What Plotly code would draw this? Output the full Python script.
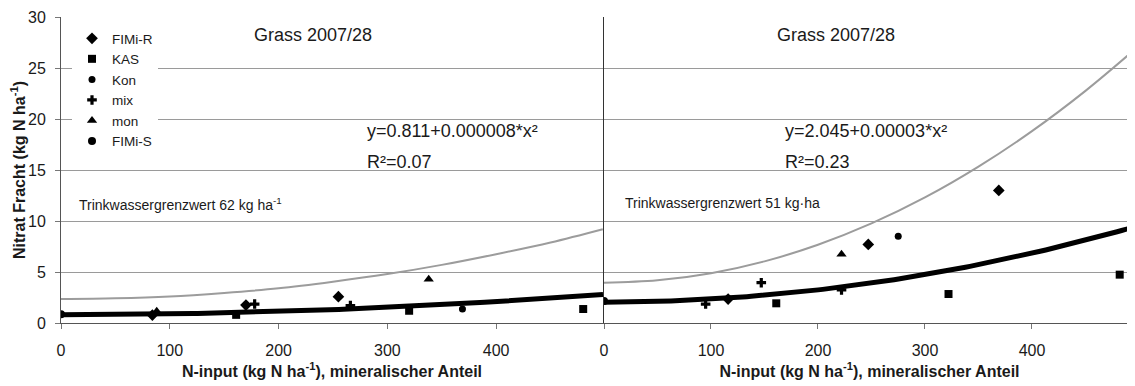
import numpy as np
import plotly.graph_objects as go

# ---------------- data ----------------
series_names = ["FIMi-R", "KAS", "Kon", "mix", "mon", "FIMi-S"]
series_symbols = ["diamond", "square", "circle", "cross", "triangle-up", "circle"]
series_sizes = [9, 8, 7, 8, 9, 8]

# left panel (Grass 2007/28, equation y=0.811+0.000008*x²)
left_x = {
    "FIMi-R": [84, 170, 255],
    "KAS": [161, 320, 480],
    "Kon": [369],
    "mix": [178, 266],
    "mon": [88, 338],
    "FIMi-S": [0],
}
left_y = {
    "FIMi-R": [0.78, 1.76, 2.58],
    "KAS": [0.8, 1.2, 1.37],
    "Kon": [1.37],
    "mix": [1.86, 1.7],
    "mon": [1.15, 4.3],
    "FIMi-S": [0.85],
}
# right panel (Grass 2007/28, equation y=2.045+0.00003*x²)
right_x = {
    "FIMi-R": [116, 247, 369],
    "KAS": [161, 322, 482],
    "Kon": [275],
    "mix": [95, 147, 222],
    "mon": [222],
    "FIMi-S": [0],
}
right_y = {
    "FIMi-R": [2.35, 7.7, 13.0],
    "KAS": [1.93, 2.84, 4.74],
    "Kon": [8.5],
    "mix": [1.86, 3.95, 3.24],
    "mon": [6.73],
    "FIMi-S": [2.16],
}

# trend equations shown on the chart
left_a, left_b = 0.811, 0.000008
right_a, right_b = 2.045, 0.00003
left_eq = "y=0.811+0.000008*x²"
left_r2 = "R²=0.07"
right_eq = "y=2.045+0.00003*x²"
right_r2 = "R²=0.23"

# grey upper curves
left_grey_x = [0, 50, 100, 150, 200, 250, 300, 350, 400, 450, 498]
left_grey_y = [2.35, 2.42, 2.6, 2.95, 3.4, 4.05, 4.8, 5.7, 6.75, 7.9, 9.2]
right_grey_x = [0, 50, 100, 150, 200, 250, 300, 350, 400, 450, 497]
right_grey_y = [3.95, 4.18, 4.88, 6.04, 7.67, 9.76, 12.31, 15.33, 18.81, 22.76, 26.9]

x_ticks = [0, 100, 200, 300, 400]
y_ticks = [0, 5, 10, 15, 20, 25, 30]
panel_title = "Grass 2007/28"
left_limit = "Trinkwassergrenzwert 62 kg ha<sup>-1</sup>"
right_limit = "Trinkwassergrenzwert 51 kg·ha"
x_title = "N-input (kg N ha<sup>-1</sup>), mineralischer Anteil"
y_title = "Nitrat Fracht (kg N ha<sup>-1</sup>)"

LEFT_MAX = 498.2
RIGHT_MAX = 496.3

FONT = "Arial, Liberation Sans, sans-serif"
TXT = "#1a1a1a"
GRID = "#9a9a9a"

fig = go.Figure()

# grey curves
fig.add_trace(go.Scatter(x=left_grey_x, y=left_grey_y, mode="lines", line=dict(color="#9c9c9c", width=2, shape="spline"),
                         xaxis="x", yaxis="y", showlegend=False, hoverinfo="skip"))
fig.add_trace(go.Scatter(x=right_grey_x, y=right_grey_y, mode="lines", line=dict(color="#9c9c9c", width=2, shape="spline"),
                         xaxis="x2", yaxis="y2", showlegend=False, hoverinfo="skip"))

# trend lines from the displayed equations
xl = np.linspace(0, LEFT_MAX, 120)
xr = np.linspace(0, RIGHT_MAX, 120)
fig.add_trace(go.Scatter(x=xl, y=left_a + left_b * xl ** 2, mode="lines", line=dict(color="black", width=5),
                         xaxis="x", yaxis="y", showlegend=False, hoverinfo="skip"))
fig.add_trace(go.Scatter(x=xr, y=right_a + right_b * xr ** 2, mode="lines", line=dict(color="black", width=5),
                         xaxis="x2", yaxis="y2", showlegend=False, hoverinfo="skip"))

# points
for name, sym, sz in zip(series_names, series_symbols, series_sizes):
    mk = dict(symbol=sym, size=sz, color="black", line=dict(width=0))
    fig.add_trace(go.Scatter(x=left_x[name], y=left_y[name], mode="markers", marker=mk, name=name,
                             legendgroup=name, xaxis="x", yaxis="y", showlegend=True))
    fig.add_trace(go.Scatter(x=right_x[name], y=right_y[name], mode="markers", marker=mk, name=name,
                             legendgroup=name, xaxis="x2", yaxis="y2", showlegend=False))

split_l = (603 - 61) / 1074
split_r = (604 - 61) / 1074

axis_common = dict(
    showgrid=False, zeroline=False, showline=True, linecolor="#555", linewidth=1,
    ticks="outside", ticklen=5, tickcolor="#777",
    tickfont=dict(family=FONT, size=16, color=TXT),
    tickvals=x_ticks, ticklabelstandoff=8,
    title=dict(text=x_title, font=dict(family=FONT, size=16, color=TXT, weight="bold"), standoff=7),
)

# page body has an 8px margin, so the figure is 8px smaller and margins shifted
fig.update_layout(
    width=1127, height=378,
    margin=dict(l=53, r=0, t=9, b=63, autoexpand=False),
    paper_bgcolor="white", plot_bgcolor="white",
    font=dict(family=FONT, color=TXT),
    xaxis=dict(domain=[0, split_l], range=[0, LEFT_MAX], anchor="y", **axis_common),
    xaxis2=dict(domain=[split_r, 1], range=[0, RIGHT_MAX], anchor="y2", **axis_common),
    yaxis=dict(range=[0, 30], tickvals=y_ticks, showgrid=True, gridcolor=GRID, gridwidth=1, zeroline=False,
               showline=True, linecolor="#555", ticks="outside", ticklen=5, tickcolor="#777",
               tickfont=dict(family=FONT, size=16, color=TXT), ticklabelstandoff=6,
               anchor="x"),
    yaxis2=dict(range=[0, 30], tickvals=y_ticks, showgrid=True, gridcolor=GRID, gridwidth=1, zeroline=False,
                showline=True, linecolor="#333", showticklabels=False, ticks="", anchor="x2", matches="y"),
    legend=dict(x=(72 - 61) / 1074, y=(323 - 23) / 306, xanchor="left", yanchor="top",
                bgcolor="white", borderwidth=0, font=dict(family=FONT, size=13.5, color=TXT),
                itemwidth=30, tracegroupgap=0),
    showlegend=True,
)

ann_font_title = dict(family=FONT, size=18, color=TXT)
annotations = [
    dict(text=y_title, x=(18 - 61) / 1074, y=0.5, xref="paper", yref="paper", textangle=-90, showarrow=False,
         font=dict(family=FONT, size=16, color=TXT, weight="bold"), xanchor="center", yanchor="middle"),
    dict(text=panel_title, x=231.6, y=28.2, xref="x", yref="y", showarrow=False, font=ann_font_title, xanchor="center", yanchor="middle"),
    dict(text=panel_title, x=216.8, y=28.2, xref="x2", yref="y2", showarrow=False, font=ann_font_title, xanchor="center", yanchor="middle"),
    dict(text=left_eq, x=279.4, y=18.8, xref="x", yref="y", showarrow=False, font=ann_font_title, xanchor="left", yanchor="middle"),
    dict(text=left_r2, x=279.4, y=15.8, xref="x", yref="y", showarrow=False, font=ann_font_title, xanchor="left", yanchor="middle"),
    dict(text=right_eq, x=167.3, y=18.8, xref="x2", yref="y2", showarrow=False, font=ann_font_title, xanchor="left", yanchor="middle"),
    dict(text=right_r2, x=167.3, y=15.8, xref="x2", yref="y2", showarrow=False, font=ann_font_title, xanchor="left", yanchor="middle"),
    dict(text=left_limit, x=14.7, y=11.7, xref="x", yref="y", showarrow=False, font=dict(family=FONT, size=14, color=TXT), xanchor="left", yanchor="middle"),
    dict(text=right_limit, x=17.8, y=11.8, xref="x2", yref="y2", showarrow=False, font=dict(family=FONT, size=14, color=TXT), xanchor="left", yanchor="middle"),
]
fig.update_layout(annotations=annotations)

fig.write_html("out.html")
